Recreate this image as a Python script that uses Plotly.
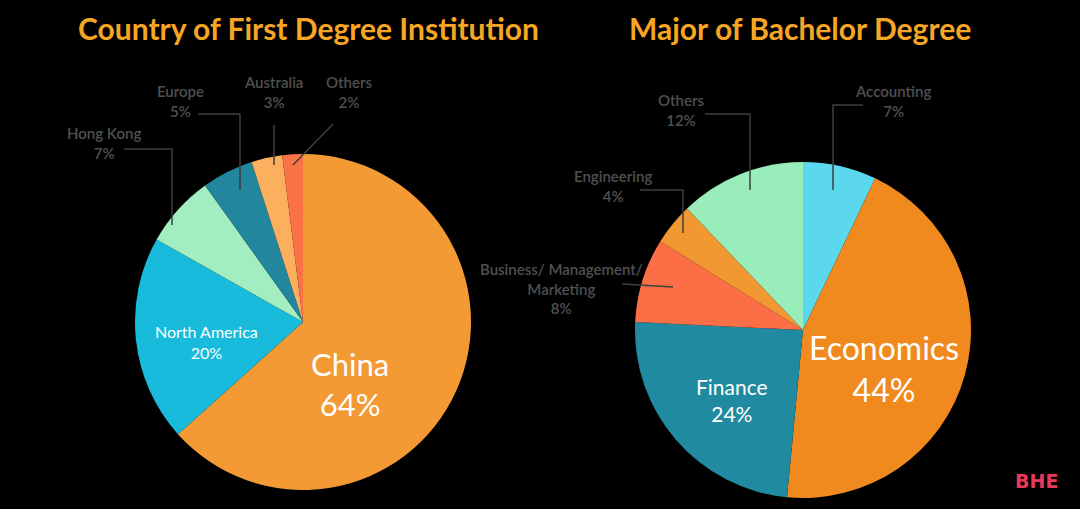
import plotly.graph_objects as go

W, H = 1080, 509

# ---- data ----
country_labels = ["China", "North America", "Hong Kong", "Europe", "Australia", "Others"]
country_values = [64, 20, 7, 5, 3, 2]
country_colors = ["#F39A34", "#18BBDB", "#A2EEC0", "#22869F", "#FCB05E", "#FC7247"]

major_labels = ["Accounting", "Economics", "Finance", "Business/ Management/<br>Marketing", "Engineering", "Others"]
major_values = [7, 44, 24, 8, 4, 12]
major_colors = ["#5CD8EE", "#F0891E", "#1F8AA0", "#FC6E45", "#F29833", "#99EDBB"]

titles = ["Country of First Degree Institution", "Major of Bachelor Degree"]


def px(x):
    return x / W


def py(y):
    return 1 - y / H


fig = go.Figure()

fig.add_trace(go.Pie(
    labels=country_labels, values=country_values, sort=False, direction="clockwise", rotation=0,
    marker=dict(colors=country_colors, line=dict(width=0)), textinfo="none", hoverinfo="label+percent",
    domain=dict(x=[px(135), px(471)], y=[py(490), py(154)]), showlegend=False,
))
fig.add_trace(go.Pie(
    labels=major_labels, values=major_values, sort=False, direction="clockwise", rotation=0,
    marker=dict(colors=major_colors, line=dict(width=0)), textinfo="none", hoverinfo="label+percent",
    domain=dict(x=[px(635), px(971)], y=[py(498), py(162)]), showlegend=False,
))

FONT = "Lato"
annotations = []

# titles
for t, cx in zip(titles, [308, 800]):
    annotations.append(dict(text=t, x=px(cx), y=py(28), xref="paper", yref="paper",
                            showarrow=False, xanchor="center", yanchor="middle",
                            font=dict(family=FONT, size=30, color="#F6A623", weight=700)))

# inside labels: (labels, values, index, center, size)
inside = [
    (country_labels, country_values, 0, (350, 384), 31),
    (country_labels, country_values, 1, (206, 342), 16),
    (major_labels, major_values, 1, (884, 368), 32),
    (major_labels, major_values, 2, (732, 400), 21),
]
for labs, vals, i, (cx, cy), sz in inside:
    annotations.append(dict(text="%s<br>%d%%" % (labs[i], vals[i]), x=px(cx), y=py(cy),
                            xref="paper", yref="paper", showarrow=False, xanchor="center",
                            yanchor="middle", font=dict(family=FONT, size=sz, color="white")))

# outside labels with leader lines: (labels, values, index, text center, polyline)
outside = [
    (country_labels, country_values, 5, (349, 92), [(293, 165), (333, 124)]),
    (country_labels, country_values, 4, (273, 92), [(274, 165), (274, 125)]),
    (country_labels, country_values, 3, (180, 101), [(240, 190), (240, 114), (198, 114)]),
    (country_labels, country_values, 2, (104, 143), [(172, 225), (172, 149), (124, 149)]),
    (major_labels, major_values, 0, (893, 101), [(833, 190), (833, 105), (863, 105)]),
    (major_labels, major_values, 5, (681, 110), [(750, 190), (750, 114), (705, 114)]),
    (major_labels, major_values, 4, (613, 186), [(683, 233), (683, 190), (640, 190)]),
    (major_labels, major_values, 3, (561, 288), [(673, 287), (622, 284)]),
]
shapes = []
for labs, vals, i, (cx, cy), pts in outside:
    annotations.append(dict(text="%s<br>%d%%" % (labs[i], vals[i]), x=px(cx), y=py(cy),
                            xref="paper", yref="paper", showarrow=False, xanchor="center",
                            yanchor="middle",
                            font=dict(family=FONT, size=15, color="#505050", weight=600)))
    path = "M %f,%f " % (px(pts[0][0]), py(pts[0][1])) + " ".join(
        "L %f,%f" % (px(x), py(y)) for x, y in pts[1:])
    shapes.append(dict(type="path", path=path, xref="paper", yref="paper",
                       line=dict(color="#3f3f3f", width=1.5)))

# logo
annotations.append(dict(text="<b>BHE</b>", x=px(1036), y=py(481), xref="paper", yref="paper",
                        showarrow=False, xanchor="center", yanchor="middle",
                        font=dict(family="DejaVu Sans", size=19, color="#E8395A")))

fig.update_layout(
    width=W, height=H, margin=dict(l=0, r=0, t=0, b=0),
    paper_bgcolor="black", plot_bgcolor="black",
    annotations=annotations, shapes=shapes,
)

fig.write_html("out.html", config={"displayModeBar": False},
               post_script="document.body.style.margin='0px';document.body.style.background='black';")
